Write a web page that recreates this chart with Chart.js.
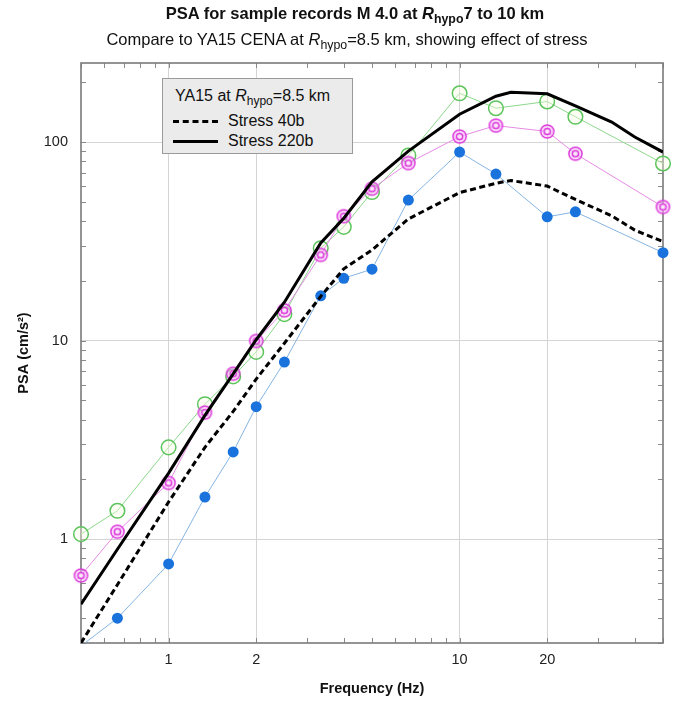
<!DOCTYPE html>
<html lang="en">
<head>
<meta charset="UTF-8">
<title>PSA for sample records M 4.0</title>
<style>
    html, body { margin: 0; padding: 0; background: #fff; }
    body { width: 673px; height: 702px; position: relative; overflow: hidden;
           font-family: "Liberation Sans", Arial, sans-serif; color: #111; }
    #psa-chart { position: absolute; left: 0; top: 0; }
    .head { position: absolute; width: 582px; text-align: center; white-space: nowrap; }
    #title { left: 64px; top: 4px; font-size: 16.5px; font-weight: bold; }
    #subtitle { left: 56px; top: 30px; font-size: 16.5px; }
    sub { font-size: 75%; vertical-align: -0.35em; line-height: 0; }
    #legend { position: absolute; left: 162px; top: 78px; width: 191px; height: 76px;
              background: #ebebeb; border: 1px solid #9a9a9a; box-sizing: border-box;
              font-size: 16px; }
    #legend div { position: absolute; white-space: nowrap; }
    .sample { position: absolute; left: 10px; width: 45px; height: 0; }
</style>
<script src="https://cdn.jsdelivr.net/npm/chart.js@4.4.0/dist/chart.umd.min.js"></script>
</head>
<body>
<canvas id="psa-chart" width="673" height="702"></canvas>
<div class="head" id="title">PSA for sample records M 4.0 at <i>R</i><sub>hypo</sub>7 to 10 km</div>
<div class="head" id="subtitle">Compare to YA15 CENA at <i>R</i><sub>hypo</sub>=8.5 km, showing effect of stress</div>
<div id="legend">
    <div style="left:12px; top:8px;">YA15 at <i>R</i><sub>hypo</sub>=8.5 km</div>
    <span class="sample" style="top:41px; border-top:3px dashed #000;"></span>
    <div style="left:65px; top:33px;">Stress 40b</div>
    <span class="sample" style="top:61px; border-top:3px solid #000;"></span>
    <div style="left:65px; top:53px;">Stress 220b</div>
</div>
<script>
    // observed records, period-based frequencies (Hz)
    const recFreqs = [0.5, 0.667, 1, 1.333, 1.667, 2, 2.5, 3.333, 4, 5, 6.667, 10, 13.33, 20, 25, 50];
    const recBlue  = [0.29, 0.40, 0.75, 1.63, 2.75, 4.65, 7.8, 16.8, 20.6, 22.9, 51, 89, 69, 42, 44.5, 27.7];
    const recGreen = [1.06, 1.39, 2.9, 4.78, 6.6, 8.77, 13.6, 29.2, 37.4, 56, 85.6, 176, 148, 160, 134, 78];
    const recPink  = [0.656, 1.09, 1.92, 4.34, 6.81, 9.96, 14.2, 27.0, 42.3, 58.2, 78.3, 106.6, 121, 113, 87.3, 47.1];

    // YA15 CENA model at Rhypo = 8.5 km
    const modelFreqs = [0.5, 0.667, 1, 1.333, 1.667, 2, 2.5, 3.333, 4, 5, 6.667, 10, 13.33, 15, 20, 25, 33.33, 40, 50];
    const stress40   = [0.3, 0.59, 1.54, 2.9, 4.4, 6.4, 9.7, 16.7, 23, 28.6, 41, 55.6, 62, 64, 60, 51.4, 42.5, 36, 31.5];
    const stress220  = [0.47, 0.89, 2.15, 4.2, 6.8, 10.1, 15.6, 31, 41.3, 63, 90, 138, 170, 178, 175, 152, 126, 106, 89];

    const xTicks = [0.5, 0.6, 0.7, 0.8, 0.9, 1, 2, 3, 4, 5, 6, 7, 8, 9, 10, 20, 30, 40, 50];
    const xLabels = [1, 2, 10, 20];
    const yTicks = [0.3, 0.4, 0.5, 0.6, 0.7, 0.8, 0.9, 1, 2, 3, 4, 5, 6, 7, 8, 9, 10,
                    20, 30, 40, 50, 60, 70, 80, 90, 100, 200];
    const yLabels = [1, 10, 100];

    function pairs(xs, ys) {
        return xs.map((x, i) => ({ x: x, y: ys[i] }));
    }

    // double ring marker for the magenta series
    function ringMarker() {
        const c = document.createElement('canvas');
        c.width = 17; c.height = 17;
        const g = c.getContext('2d');
        g.strokeStyle = '#dd3ddd';
        g.lineWidth = 1.5;
        g.fillStyle = 'rgba(245,190,245,0.55)';
        g.beginPath(); g.arc(8.5, 8.5, 6.6, 0, Math.PI * 2); g.fill(); g.stroke();
        g.fillStyle = '#fbe8fb';
        g.beginPath(); g.arc(8.5, 8.5, 3.1, 0, Math.PI * 2); g.fill(); g.stroke();
        return c;
    }

    // plot frame with inward minor ticks on all four sides
    const framePlugin = {
        id: 'frame',
        beforeDatasetsDraw(chart) {
            const { ctx, chartArea: a, scales } = chart;
            ctx.save();
            ctx.strokeStyle = '#8a8a8a';
            ctx.lineWidth = 1;
            ctx.beginPath();
            xTicks.forEach(v => {
                const px = Math.round(scales.x.getPixelForValue(v)) + 0.5;
                ctx.moveTo(px, a.bottom); ctx.lineTo(px, a.bottom - 5);
                ctx.moveTo(px, a.top); ctx.lineTo(px, a.top + 5);
            });
            yTicks.forEach(v => {
                const py = Math.round(scales.y.getPixelForValue(v)) + 0.5;
                ctx.moveTo(a.left, py); ctx.lineTo(a.left + 5, py);
                ctx.moveTo(a.right, py); ctx.lineTo(a.right - 5, py);
            });
            ctx.stroke();
            ctx.lineWidth = 1.6;
            ctx.strokeStyle = '#7a7a7a';
            ctx.strokeRect(a.left, a.top, a.right - a.left, a.bottom - a.top);
            ctx.restore();
        }
    };

    const tickFont = { family: '"Liberation Sans", Arial, sans-serif', size: 14.5 };
    const titleFont = { family: '"Liberation Sans", Arial, sans-serif', size: 14.5, weight: 'bold' };
    const edgeClip = { left: 10, right: 10, top: 10, bottom: 0 };

    new Chart(document.getElementById('psa-chart').getContext('2d'), {
        type: 'line',
        data: {
            datasets: [
                {
                    label: 'Stress 220b',
                    data: pairs(modelFreqs, stress220),
                    borderColor: '#000', borderWidth: 3, pointRadius: 0,
                    order: 0
                },
                {
                    label: 'Stress 40b',
                    data: pairs(modelFreqs, stress40),
                    borderColor: '#000', borderWidth: 3, borderDash: [6, 3.5], pointRadius: 0,
                    order: 1
                },
                {
                    label: 'record A',
                    data: pairs(recFreqs, recBlue),
                    borderColor: '#86b4e2', borderWidth: 1,
                    pointBackgroundColor: '#1a72dc', pointBorderColor: '#1a72dc',
                    pointRadius: ctx => (ctx.raw && ctx.raw.y < 0.3 ? 0 : 5.5), pointBorderWidth: 0,
                    clip: edgeClip, order: 2
                },
                {
                    label: 'record B',
                    data: pairs(recFreqs, recPink),
                    borderColor: '#e58be5', borderWidth: 1,
                    pointStyle: ringMarker(),
                    clip: edgeClip, order: 3
                },
                {
                    label: 'record C',
                    data: pairs(recFreqs, recGreen),
                    borderColor: '#8bd88b', borderWidth: 1,
                    pointBackgroundColor: 'rgba(250,255,225,0.35)', pointBorderColor: '#5cc45c',
                    pointRadius: 7.3, pointBorderWidth: 1.5,
                    clip: edgeClip, order: 4
                }
            ]
        },
        options: {
            responsive: false,
            animation: false,
            layout: { padding: { top: 63, right: 10, left: 0, bottom: 0 } },
            plugins: { legend: { display: false }, tooltip: { enabled: false } },
            scales: {
                x: {
                    type: 'logarithmic', min: 0.5, max: 50,
                    afterFit: s => { s.height = 59; },
                    afterBuildTicks: s => { s.ticks = xTicks.map(v => ({ value: v })); },
                    ticks: {
                        autoSkip: false, maxRotation: 0, padding: 8,
                        font: tickFont, color: '#222',
                        callback: v => (xLabels.includes(v) ? String(v) : '')
                    },
                    grid: {
                        drawTicks: false, lineWidth: 1,
                        color: c => (c.tick && xLabels.includes(c.tick.value) ? '#d4d4d4' : 'rgba(0,0,0,0)')
                    },
                    border: { display: false },
                    title: { display: true, text: 'Frequency (Hz)', font: titleFont, color: '#111', padding: { top: 3 } }
                },
                y: {
                    type: 'logarithmic', min: 0.3, max: 250,
                    afterFit: s => { s.width = 81; },
                    afterBuildTicks: s => { s.ticks = yTicks.map(v => ({ value: v })); },
                    ticks: {
                        autoSkip: false, padding: 13,
                        font: tickFont, color: '#222',
                        callback: v => (yLabels.includes(v) ? String(v) : '')
                    },
                    grid: {
                        drawTicks: false, lineWidth: 1,
                        color: c => (c.tick && yLabels.includes(c.tick.value) ? '#d4d4d4' : 'rgba(0,0,0,0)')
                    },
                    border: { display: false },
                    title: { display: true, text: 'PSA (cm/s\u00b2)', font: titleFont, color: '#111', padding: { top: 15 } }
                }
            }
        },
        plugins: [framePlugin]
    });
</script>
</body>
</html>
